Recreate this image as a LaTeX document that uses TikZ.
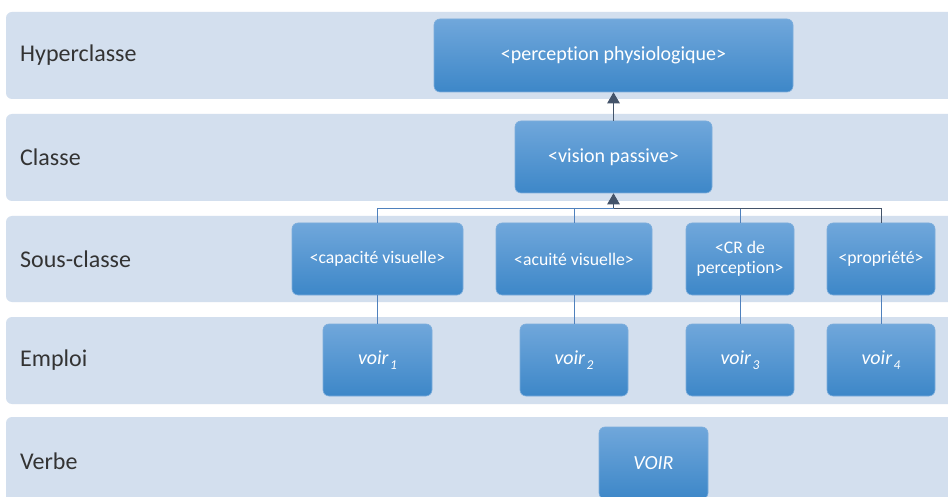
\documentclass[tikz,border=0pt]{standalone}
\usepackage{fontspec}
\setmainfont{Carlito}[Ligatures=NoCommon]
\usetikzlibrary{arrows.meta}
\definecolor{bandfill}{HTML}{D3DFEE}
\definecolor{boxtop}{HTML}{70A7DB}
\definecolor{boxbot}{HTML}{3D87C8}
\definecolor{boxedge}{HTML}{7DAEDC}
\definecolor{linkblue}{HTML}{4F81BD}
\definecolor{linkgray}{HTML}{44546A}
\definecolor{labeltext}{HTML}{333333}
\newcommand{\usagelabel}[1]{voir\hspace{1.5pt}\raisebox{-4.5pt}{\fontsize{13.5}{13.5}\selectfont #1}}

\begin{document}
\begin{tikzpicture}[x=1pt,y=-1pt,
  level/.style={anchor=west, inner sep=0pt, text=labeltext,
    font=\fontsize{24}{27}\selectfont},
  cat/.style={draw=boxedge, line width=0.6pt, rounded corners=6pt,
    top color=boxtop, bottom color=boxbot, text=white, align=center,
    inner sep=0pt, minimum height=72pt, font=\fontsize{20}{24}\selectfont},
  subcat/.style={cat, font=\fontsize{17.7}{20}\selectfont},
  usage/.style={cat, font=\fontsize{20}{24}\selectfont\itshape},
  link/.style={draw=linkblue, line width=0.9pt},
  uplink/.style={draw=linkgray, line width=0.9pt},
  head/.style={-{Triangle[length=11pt,width=12.5pt]}}]

\clip (0,0) rectangle (948,497);
\fill[white] (0,0) rectangle (948,497);

% horizontal bands
\fill[bandfill, rounded corners=6pt] (6,12)  rectangle (960,99);
\fill[bandfill, rounded corners=6pt] (6,114) rectangle (960,201);
\fill[bandfill, rounded corners=6pt] (6,216) rectangle (960,302);
\fill[bandfill, rounded corners=6pt] (6,317) rectangle (960,404);
\fill[bandfill, rounded corners=6pt] (6,417) rectangle (960,510);

% level names
\node[level] (lh) at (20,55.5) {Hyperclasse};
\node[level] (lc) at (20,157.5) {Classe};
\node[level] (ls) at (20,259) {Sous-classe};
\node[level] (le) at (20,360.5) {Emploi};
\node[level] (lv) at (20,461) {Verbe};

% categories
\node[cat, minimum width=359pt, minimum height=73pt] (pp) at (613.5,55.5) {<perception physiologique>};
\node[cat, minimum width=197pt] (vp) at (613.5,157) {<vision passive>};

\node[subcat, minimum width=171pt] (cv) at (377.5,259) {<capacité visuelle>};
\node[subcat, minimum width=156pt] (av) at (574,259) {<acuité visuelle>};
\node[subcat, minimum width=108pt] (cr) at (740,259) {<CR de\\perception>};
\node[subcat, minimum width=108pt] (pr) at (881,259) {<propriété>};

\node[usage, minimum width=109pt] (v1) at (377.5,360) {\usagelabel{1}};
\node[usage, minimum width=108pt] (v2) at (574,360) {\usagelabel{2}};
\node[usage, minimum width=108pt] (v3) at (740,360) {\usagelabel{3}};
\node[usage, minimum width=108pt] (v4) at (881,360) {\usagelabel{4}};

\node[usage, minimum width=109pt] (vb) at (653.5,463) {VOIR};

% connectors
\coordinate (bus) at (0,208);
\draw[uplink, head] (vp.north) -- (pp.south);

\draw[link] (cv.north) -- (cv.north |- bus) -- (vp.south |- bus);
\draw[link] (av.north) -- (av.north |- bus) -- (vp.south |- bus);
\draw[link] (cr.north) -- (cr.north |- bus) -- (vp.south |- bus);
\draw[uplink] (pr.north) -- (pr.north |- bus) -- (vp.south |- bus);
\draw[uplink, head] (vp.south |- bus) -- (vp.south);

\draw[link] (cv.south) -- (v1.north);
\draw[link] (av.south) -- (v2.north);
\draw[link] (cr.south) -- (v3.north);
\draw[link] (pr.south) -- (v4.north);
\end{tikzpicture}
\end{document}
